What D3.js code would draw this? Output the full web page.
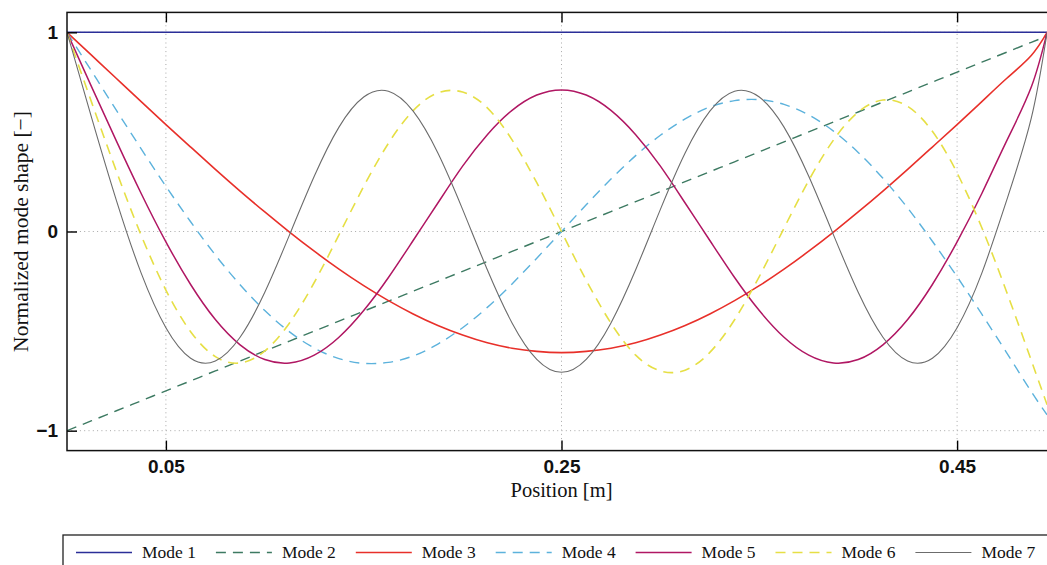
<!DOCTYPE html>
<html>
<head>
<meta charset="utf-8">
<script src="https://cdn.jsdelivr.net/npm/d3@7"></script>
<style>
  html, body { margin: 0; padding: 0; background: #ffffff; }
  svg { display: block; }
</style>
</head>
<body>
<script>
// Beam positions [m] at which the mode shapes are sampled
const position = [0, 0.0125, 0.025, 0.0375, 0.05, 0.0625, 0.075, 0.0875, 0.1, 0.1125,
  0.125, 0.1375, 0.15, 0.1625, 0.175, 0.1875, 0.2, 0.2125, 0.225, 0.2375,
  0.25, 0.2625, 0.275, 0.2875, 0.3, 0.3125, 0.325, 0.3375, 0.35, 0.3625,
  0.375, 0.3875, 0.4, 0.4125, 0.425, 0.4375, 0.45, 0.4625, 0.475, 0.4875, 0.4955];

// Normalized mode shapes
const mode1 = [1, 1, 1, 1, 1, 1, 1, 1, 1, 1, 1, 1, 1, 1, 1, 1, 1, 1, 1, 1, 1,
  1, 1, 1, 1, 1, 1, 1, 1, 1, 1, 1, 1, 1, 1, 1, 1, 1, 1, 1, 1];
const mode2 = [-1, -0.95, -0.9, -0.85, -0.8, -0.75, -0.7, -0.65, -0.6, -0.55,
  -0.5, -0.45, -0.4, -0.35, -0.3, -0.25, -0.2, -0.15, -0.1, -0.05,
  0, 0.05, 0.1, 0.15, 0.2, 0.25, 0.3, 0.35, 0.4, 0.45,
  0.5, 0.55, 0.6, 0.65, 0.7, 0.75, 0.8, 0.85, 0.9, 0.95, 0.98];
const mode3 = [1, 0.884, 0.768, 0.652, 0.537, 0.424, 0.312, 0.203, 0.098, -0.003,
  -0.099, -0.189, -0.272, -0.347, -0.414, -0.472, -0.520, -0.559, -0.586, -0.602,
  -0.608, -0.602, -0.586, -0.559, -0.520, -0.472, -0.414, -0.347, -0.272, -0.189,
  -0.099, -0.003, 0.098, 0.203, 0.312, 0.424, 0.537, 0.652, 0.768, 0.884, 1];
const mode4 = [1, 0.804, 0.608, 0.415, 0.227, 0.049, -0.118, -0.267, -0.397, -0.504,
  -0.585, -0.638, -0.662, -0.657, -0.625, -0.565, -0.483, -0.381, -0.263, -0.134,
  0, 0.134, 0.263, 0.381, 0.483, 0.565, 0.625, 0.657, 0.662, 0.638,
  0.585, 0.504, 0.397, 0.267, 0.118, -0.049, -0.227, -0.415, -0.608, -0.804, -0.92];
const mode5 = [1, 0.725, 0.454, 0.191, -0.052, -0.266, -0.442, -0.569, -0.643, -0.660,
  -0.621, -0.531, -0.397, -0.231, -0.045, 0.143, 0.328, 0.486, 0.608, 0.685,
  0.711, 0.685, 0.608, 0.486, 0.328, 0.143, -0.045, -0.231, -0.397, -0.531,
  -0.621, -0.660, -0.643, -0.569, -0.442, -0.266, -0.052, 0.191, 0.454, 0.725, 1];
const mode6 = [1, 0.647, 0.302, -0.019, -0.294, -0.503, -0.628, -0.660, -0.600, -0.459,
  -0.256, -0.017, 0.226, 0.443, 0.607, 0.696, 0.700, 0.621, 0.460, 0.245,
  0, -0.245, -0.460, -0.621, -0.700, -0.696, -0.607, -0.443, -0.226, 0.017,
  0.256, 0.459, 0.600, 0.660, 0.628, 0.503, 0.294, 0.019, -0.302, -0.647, -0.87];
const mode7 = [1, 0.569, 0.155, -0.209, -0.483, -0.636, -0.650, -0.531, -0.305, -0.017,
  0.277, 0.524, 0.675, 0.704, 0.604, 0.394, 0.111, -0.192, -0.459, -0.642,
  -0.707, -0.642, -0.459, -0.192, 0.111, 0.394, 0.604, 0.704, 0.675, 0.524,
  0.277, -0.017, -0.305, -0.531, -0.650, -0.636, -0.483, -0.209, 0.155, 0.569, 1];

const modeNames = ["Mode 1", "Mode 2", "Mode 3", "Mode 4", "Mode 5", "Mode 6", "Mode 7"];
const xTicks = [0.05, 0.25, 0.45];
const yTicks = [-1, 0, 1];

// Line styles per mode
const styles = [
  { color: "#2b2e98", dash: null, width: 1.4 },
  { color: "#3d7a62", dash: "10,7", width: 1.4 },
  { color: "#e8302a", dash: null, width: 1.6 },
  { color: "#5cb2dc", dash: "10,7", width: 1.4 },
  { color: "#b01763", dash: null, width: 1.5 },
  { color: "#e6df45", dash: "10,7", width: 1.6 },
  { color: "#6c6c6c", dash: null, width: 1.1 }
];

const modes = [mode1, mode2, mode3, mode4, mode5, mode6, mode7];

const W = 1047, H = 565;
const plot = { left: 67, right: 1056, top: 12.4, bottom: 450.6 };

const svg = d3.select("body").append("svg")
  .attr("width", W).attr("height", H)
  .style("font-family", "'Liberation Sans', Arial, sans-serif");

svg.append("rect").attr("width", W).attr("height", H).attr("fill", "#ffffff");

const x = d3.scaleLinear().domain([0, 0.5]).range([plot.left, plot.right]);
const y = d3.scaleLinear().domain([-1.1, 1.1]).range([plot.bottom, plot.top]);

// dotted grid
const grid = svg.append("g").attr("stroke", "#a8a8a8").attr("stroke-width", 1)
  .attr("stroke-dasharray", "1,3.3");
grid.selectAll("line.gx").data(xTicks).join("line")
  .attr("x1", d => x(d)).attr("x2", d => x(d))
  .attr("y1", plot.top).attr("y2", plot.bottom);
grid.selectAll("line.gy").data(yTicks).join("line")
  .attr("y1", d => y(d)).attr("y2", d => y(d))
  .attr("x1", plot.left).attr("x2", plot.right);

// mode shape curves
svg.append("clipPath").attr("id", "plotclip").append("rect")
  .attr("x", plot.left).attr("y", plot.top)
  .attr("width", plot.right - plot.left).attr("height", plot.bottom - plot.top);

const line = d3.line()
  .x((d, i) => x(position[i]))
  .y(d => y(d))
  .curve(d3.curveNatural);

svg.append("g").attr("clip-path", "url(#plotclip)")
  .selectAll("path").data(modes).join("path")
  .attr("d", d => line(d))
  .attr("fill", "none")
  .attr("stroke", (d, i) => styles[i].color)
  .attr("stroke-width", (d, i) => styles[i].width)
  .attr("stroke-dasharray", (d, i) => styles[i].dash);

// axes with inward ticks
const tickLen = 10;
const fmtX = d3.format(".2f");
const axB = svg.append("g").attr("transform", `translate(0,${plot.bottom})`)
  .call(d3.axisBottom(x).tickValues(xTicks).tickFormat(fmtX).tickSize(-tickLen).tickPadding(9));
const axT = svg.append("g").attr("transform", `translate(0,${plot.top})`)
  .call(d3.axisTop(x).tickValues(xTicks).tickFormat("").tickSize(-tickLen));
const axL = svg.append("g").attr("transform", `translate(${plot.left},0)`)
  .call(d3.axisLeft(y).tickValues(yTicks).tickFormat(d3.format("d")).tickSize(-tickLen).tickPadding(9));
[axB, axT, axL].forEach(g => {
  g.select(".domain").remove();
  g.selectAll(".tick line").attr("stroke", "#000").attr("stroke-width", 1.4);
  g.selectAll(".tick text").attr("fill", "#111")
    .style("font-family", "'Liberation Sans', Arial, sans-serif")
    .style("font-size", "19px").style("font-weight", "bold");
});

// frame
svg.append("rect")
  .attr("x", plot.left).attr("y", plot.top)
  .attr("width", plot.right - plot.left).attr("height", plot.bottom - plot.top)
  .attr("fill", "none").attr("stroke", "#111").attr("stroke-width", 1.5);

// axis titles
const serif = "'Liberation Serif', 'Times New Roman', serif";
svg.append("text")
  .attr("x", x(0.25)).attr("y", 497)
  .attr("text-anchor", "middle")
  .style("font-family", serif).style("font-size", "20.5px").attr("fill", "#111")
  .text("Position [m]");
svg.append("text")
  .attr("transform", `translate(28,${y(0)}) rotate(-90)`)
  .attr("text-anchor", "middle")
  .style("font-family", serif).style("font-size", "21.5px").attr("fill", "#111")
  .text("Normalized mode shape [\u2212]");

// legend
const legend = svg.append("g");
legend.append("rect")
  .attr("x", 63).attr("y", 535).attr("width", 1010).attr("height", 40)
  .attr("fill", "#fff").attr("stroke", "#222").attr("stroke-width", 1.3);
const legendTextX = i => 142 + i * 139.9;
const items = legend.selectAll("g.item").data(modeNames).join("g").attr("class", "item");
items.append("line")
  .attr("x1", (d, i) => legendTextX(i) - 66).attr("x2", (d, i) => legendTextX(i) - 10)
  .attr("y1", 552.5).attr("y2", 552.5)
  .attr("stroke", (d, i) => styles[i].color)
  .attr("stroke-width", (d, i) => styles[i].width)
  .attr("stroke-dasharray", (d, i) => styles[i].dash);
items.append("text")
  .attr("x", (d, i) => legendTextX(i)).attr("y", 558)
  .style("font-family", serif).style("font-size", "17.5px").attr("fill", "#111")
  .text(d => d);
</script>
</body>
</html>
